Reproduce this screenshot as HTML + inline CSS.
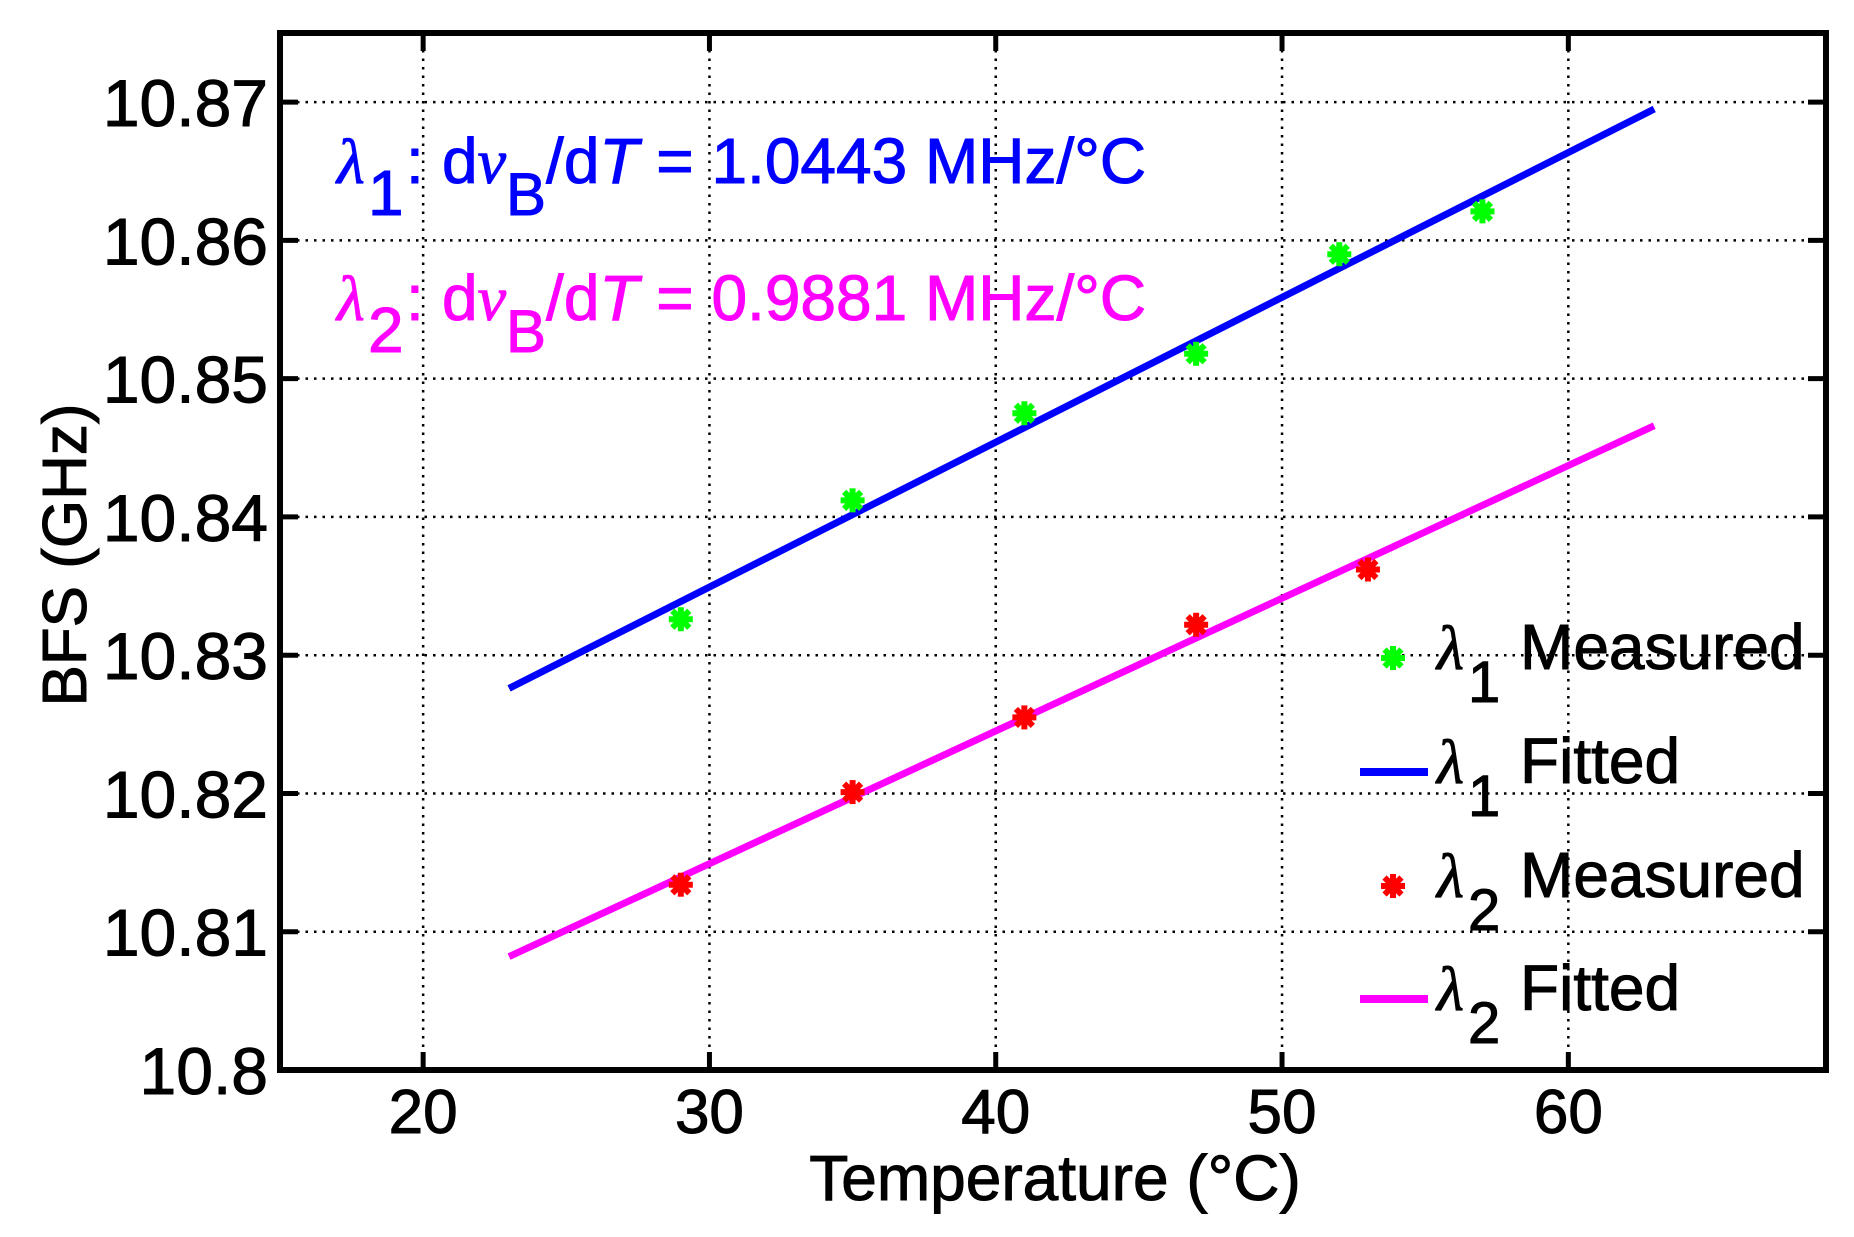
<!DOCTYPE html>
<html><head><meta charset="utf-8"><style>
html,body{margin:0;padding:0;background:#fff;}
svg{display:block;font-family:"Liberation Sans",Arial,sans-serif;}
</style></head><body>
<svg id="chart" width="1854" height="1237" viewBox="0 0 1854 1237" xmlns="http://www.w3.org/2000/svg">
<g id="grid"></g>
<g id="series"></g>
<g id="axes"></g>
<text x="1055" y="1200" font-size="64" text-anchor="middle" stroke="#000" stroke-width="1">Temperature (°C)</text>
<text transform="translate(86,555) rotate(-90)" font-size="62" text-anchor="middle" stroke="#000" stroke-width="1">BFS (GHz)</text>
<g fill="#0000ff" stroke="#0000ff" stroke-width="1" font-size="64">
<text x="337" y="183" font-family="Liberation Serif,serif" font-style="italic">λ</text>
<text x="368" y="215">1</text>
<text x="406" y="183">:</text>
<text x="442" y="183">d<tspan font-family="Liberation Serif,serif" font-style="italic">ν</tspan><tspan dy="32" font-size="60">B</tspan><tspan dy="-32">/d</tspan><tspan font-style="italic">T</tspan> = 1.0443 MHz/°C</text>
</g>
<g fill="#ff00ff" stroke="#ff00ff" stroke-width="1" font-size="64">
<text x="337" y="320" font-family="Liberation Serif,serif" font-style="italic">λ</text>
<text x="368" y="352">2</text>
<text x="406" y="320">:</text>
<text x="442" y="320">d<tspan font-family="Liberation Serif,serif" font-style="italic">ν</tspan><tspan dy="32" font-size="60">B</tspan><tspan dy="-32">/d</tspan><tspan font-style="italic">T</tspan> = 0.9881 MHz/°C</text>
</g>
<g id="legend" font-size="62"></g>
</svg>
<script>
const xTicks=[20,30,40,50,60];
const yTicks=[10.8,10.81,10.82,10.83,10.84,10.85,10.86,10.87];
const yTickLabels=["10.8","10.81","10.82","10.83","10.84","10.85","10.86","10.87"];
const temps1=[29,35,41,47,52,57];
const bfs1=[10.8326,10.8412,10.8475,10.8518,10.8590,10.8621];
const temps2=[29,35,41,47,53];
const bfs2=[10.8134,10.8201,10.8255,10.8322,10.8362];
const fitT=[23,63];
const fit1=[10.8276,10.8695];
const fit2=[10.8082,10.8466];

const L=280,R=1826,T=33,B=1070,X0=15,X1=69,Y0=10.8,Y1=10.875;
const sx=v=>L+(v-X0)/(X1-X0)*(R-L);
const sy=v=>B-(v-Y0)/(Y1-Y0)*(B-T);
const NS="http://www.w3.org/2000/svg";
function mk(tag,attrs,parent,text){const e=document.createElementNS(NS,tag);for(const k in attrs)e.setAttribute(k,attrs[k]);if(text!==undefined)e.textContent=text;parent.appendChild(e);return e;}
const grid=document.getElementById('grid'),axes=document.getElementById('axes'),series=document.getElementById('series'),legend=document.getElementById('legend');

xTicks.forEach(t=>{
  const g=mk('line',{x1:sx(t),x2:sx(t),y1:T,y2:B,stroke:'#000','stroke-width':2.5,'stroke-dasharray':'2.5 6'},grid);
  
  
  const a=mk('line',{x1:sx(t),x2:sx(t),y1:B,y2:B-18,stroke:'#000','stroke-width':5},axes);
  
  
  const b=mk('line',{x1:sx(t),x2:sx(t),y1:T,y2:T+18,stroke:'#000','stroke-width':5},axes);
  
  
  const l=mk('text',{x:sx(t),y:1133,'font-size':62,'text-anchor':'middle',stroke:'#000','stroke-width':1},axes,String(t));
  
  
});
yTicks.forEach((t,i)=>{
  if(i>0){
    const g=mk('line',{x1:L,x2:R,y1:sy(t),y2:sy(t),stroke:'#000','stroke-width':2.5,'stroke-dasharray':'2.5 6'},grid);
    
    
  }
  const a=mk('line',{x1:L,x2:L+18,y1:sy(t),y2:sy(t),stroke:'#000','stroke-width':5},axes);
  
  
  const b=mk('line',{x1:R,x2:R-18,y1:sy(t),y2:sy(t),stroke:'#000','stroke-width':5},axes);
  
  
  const l=mk('text',{x:268,y:sy(t)+24,'font-size':66,'text-anchor':'end',stroke:'#000','stroke-width':1},axes,yTickLabels[i]);
  
  
});
const box=mk('rect',{x:L,y:T,width:R-L,height:B-T,fill:'none',stroke:'#000','stroke-width':6},axes);



function star(cx,cy,color,parent){
  const g=mk('g',{},parent);
  for(let k=0;k<4;k++){
    const a=k*Math.PI/4,r=12;
    mk('line',{x1:cx-r*Math.cos(a),y1:cy-r*Math.sin(a),x2:cx+r*Math.cos(a),y2:cy+r*Math.sin(a),stroke:color,'stroke-width':6},g);
  }
  mk('circle',{cx:cx,cy:cy,r:8,fill:color,stroke:'none'},g);
  return g;
}
const f1=mk('line',{x1:sx(fitT[0]),y1:sy(fit1[0]),x2:sx(fitT[1]),y2:sy(fit1[1]),stroke:'#0000ff','stroke-width':7},series);


const f2=mk('line',{x1:sx(fitT[0]),y1:sy(fit2[0]),x2:sx(fitT[1]),y2:sy(fit2[1]),stroke:'#ff00ff','stroke-width':7},series);


temps1.forEach((t,i)=>{
  const p=star(sx(t),sy(bfs1[i]),'#00ff00',series);
  
  
});
temps2.forEach((t,i)=>{
  const p=star(sx(t),sy(bfs2[i]),'#ff0000',series);
  
  
});

const rows=[[658,'m','#00ff00','1','Measured'],[772,'l','#0000ff','1','Fitted'],[886,'m','#ff0000','2','Measured'],[999,'l','#ff00ff','2','Fitted']];
rows.forEach(r=>{
  const g=mk('g',{},legend);
  
  
  if(r[1]==='m') star(1393,r[0],r[2],g);
  else mk('line',{x1:1360,x2:1428,y1:r[0],y2:r[0],stroke:r[2],'stroke-width':8},g);
  mk('text',{x:1437,y:r[0]+11,'font-family':'Liberation Serif,serif','font-style':'italic','font-size':62,stroke:'#000','stroke-width':1},g,'λ');
  mk('text',{x:1468,y:r[0]+44,'font-size':58,stroke:'#000','stroke-width':1},g,r[3]);
  mk('text',{x:1520,y:r[0]+11,'font-size':64,stroke:'#000','stroke-width':1},g,r[4]);
});
</script>
</body></html>
